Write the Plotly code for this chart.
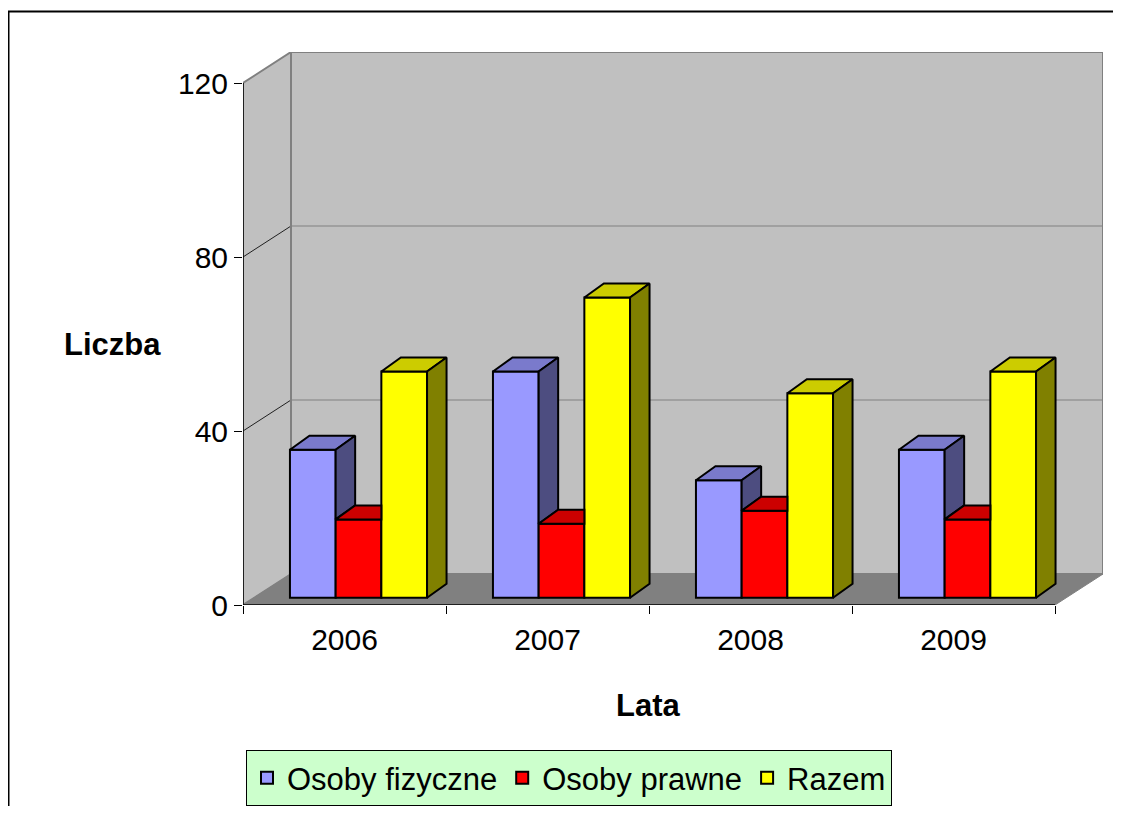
import plotly.graph_objects as go

# ---------------- data ----------------
years = ["2006", "2007", "2008", "2009"]
osoby_fizyczne = [34, 52, 27, 34]
osoby_prawne = [18, 17, 20, 18]
razem = [52, 69, 47, 52]
series_names = ["Osoby fizyczne", "Osoby prawne", "Razem"]
y_tick_values = [0, 40, 80, 120]
y_max = 120
y_title = "Liczba"
x_title = "Lata"

# ---------------- styles / geometry ----------------
PAGE_MARGIN = 8                      # default body margin of the html page
W, H = 1121 - 2 * PAGE_MARGIN, 814 - 2 * PAGE_MARGIN
FONT = "Liberation Sans, Arial, sans-serif"
front_colors = ["#9999ff", "#ff0000", "#ffff00"]
top_colors = ["#7a7acc", "#cc0000", "#cccc00"]
side_colors = ["#4d4d80", "#800000", "#808000"]

PX_LEFT, PX_ZERO = 243, 605          # front-plane origin (window pixels)
CAT_PX = 203.0                        # width of one category (pixels)
VAL_PX = (605 - 83) / 120.0           # pixels per value unit
DEPTH_PX = (48, 31)                   # full floor depth projection
FRONT_PX = (14, 7.3)                  # bar front face offset into depth
BAR_DEPTH_PX = (19.5, 14)             # bar depth projection
BAR_W_PX = 45.7

DX = DEPTH_PX[0] / CAT_PX
DY = DEPTH_PX[1] / VAL_PX
FDX = FRONT_PX[0] / CAT_PX
FDY = FRONT_PX[1] / VAL_PX
BDX = BAR_DEPTH_PX[0] / CAT_PX
BDY = BAR_DEPTH_PX[1] / VAL_PX
BW = BAR_W_PX / CAT_PX

n_cat = len(years)
x_lo, x_hi = -0.5, n_cat - 0.5
x_range = [x_lo, x_hi + DX]
y_range = [0, y_max + DY]


def px_x(p):
    return (p - PAGE_MARGIN) / W


def px_y(p):
    return 1 - (p - PAGE_MARGIN) / H


x_dom = [px_x(PX_LEFT), px_x(PX_LEFT + n_cat * CAT_PX + DEPTH_PX[0])]
y_dom = [px_y(PX_ZERO), px_y(PX_ZERO - (y_max + DY) * VAL_PX)]

series = [osoby_fizyczne, osoby_prawne, razem]
cat_pos = list(range(n_cat))

fig = go.Figure()

# front faces: real bars
for s, (name, vals) in enumerate(zip(series_names, series)):
    fig.add_trace(go.Bar(
        x=[c + FDX for c in cat_pos], y=vals, base=FDY,
        width=BW, offset=-1.5 * BW + s * BW,
        name=name, marker=dict(color=front_colors[s], line=dict(color="black", width=2)),
        hoverinfo="name+y",
    ))

# 3D top and side faces derived from the values
for s, vals in enumerate(series):
    tx, ty, sx, sy = [], [], [], []
    for c in cat_pos:
        v = vals[c]
        xl = c + FDX - 1.5 * BW + s * BW
        xr = xl + BW
        t = v + FDY
        nxt = series[s + 1][c] + FDY if s + 1 < len(series) else None
        # top face (clipped by a taller neighbour in front of it)
        if nxt is not None and nxt > t:
            tx += [xl, xr, xr, xl + BDX, xl, None]
            ty += [t, t, t + BDY, t + BDY, t, None]
        else:
            tx += [xl, xr, xr + BDX, xl + BDX, xl, None]
            ty += [t, t, t + BDY, t + BDY, t, None]
        # side face (only the part above the neighbour)
        b = FDY if nxt is None else nxt
        if b < t:
            sx += [xr, xr + BDX, xr + BDX, xr, xr, None]
            sy += [b, b + BDY, t + BDY, t, b, None]
    fig.add_trace(go.Scatter(x=tx, y=ty, mode="lines", fill="toself",
                             fillcolor=top_colors[s], line=dict(color="black", width=2),
                             showlegend=False, hoverinfo="skip"))
    if sx:
        fig.add_trace(go.Scatter(x=sx, y=sy, mode="lines", fill="toself",
                                 fillcolor=side_colors[s], line=dict(color="black", width=2),
                                 showlegend=False, hoverinfo="skip"))

# ---------------- walls, floor, gridlines ----------------
shapes = []
# back wall
shapes.append(dict(type="rect", xref="x", yref="y", x0=x_lo + DX, x1=x_hi + DX, y0=DY, y1=y_max + DY,
                   fillcolor="#c0c0c0", line=dict(color="#808080", width=2), layer="below"))
# side wall
shapes.append(dict(type="path", xref="x", yref="y",
                   path=f"M{x_lo},0 L{x_lo + DX},{DY} L{x_lo + DX},{y_max + DY} L{x_lo},{y_max} Z",
                   fillcolor="#c0c0c0", line=dict(color="#808080", width=2), layer="below"))
# floor
shapes.append(dict(type="path", xref="x", yref="y",
                   path=f"M{x_lo},0 L{x_hi},0 L{x_hi + DX},{DY} L{x_lo + DX},{DY} Z",
                   fillcolor="#808080", line=dict(color="#808080", width=1), layer="below"))
# gridlines
for v in y_tick_values[1:-1]:
    shapes.append(dict(type="line", xref="x", yref="y", x0=x_lo + DX, x1=x_hi + DX, y0=v + DY, y1=v + DY,
                       line=dict(color="#808080", width=1), layer="below"))
    shapes.append(dict(type="line", xref="x", yref="y", x0=x_lo, x1=x_lo + DX, y0=v, y1=v + DY,
                       line=dict(color="#202020", width=1), layer="below"))
# back wall left edge (re-draw over side wall)
shapes.append(dict(type="line", xref="x", yref="y", x0=x_lo + DX, x1=x_lo + DX, y0=DY, y1=y_max + DY,
                   line=dict(color="#808080", width=2), layer="below"))
# axis lines
shapes.append(dict(type="line", xref="x", yref="y", x0=x_lo, x1=x_lo, y0=0, y1=y_max,
                   line=dict(color="black", width=1.5)))
shapes.append(dict(type="line", xref="x", yref="y", x0=x_lo, x1=x_hi, y0=0, y1=0,
                   line=dict(color="black", width=1.5)))
# chart area border
shapes.append(dict(type="rect", xref="paper", yref="paper", x0=px_x(8.5), x1=1.05, y0=-0.05, y1=px_y(11.5),
                   line=dict(color="black", width=2), fillcolor="rgba(0,0,0,0)"))

fig.update_layout(
    width=W, height=H,
    margin=dict(l=0, r=0, t=0, b=0, autoexpand=False),
    paper_bgcolor="white", plot_bgcolor="white",
    font=dict(family=FONT, color="black", size=30),
    shapes=shapes,
    barmode="overlay",
    showlegend=True,
    legend=dict(orientation="h", x=px_x(569), xanchor="center", y=px_y(750), yanchor="top",
                bgcolor="#ccffcc", bordercolor="black", borderwidth=1,
                font=dict(size=31, family=FONT), traceorder="normal"),
    xaxis=dict(domain=x_dom, range=x_range, showgrid=False, zeroline=False, showline=False,
               tickmode="array", tickvals=cat_pos, ticktext=years, ticks="outside", ticklen=0,
               ticklabelstandoff=8, tickfont=dict(size=30), automargin=False,
               minor=dict(tickmode="array", tickvals=[c - 0.5 for c in range(n_cat + 1)],
                          ticks="outside", ticklen=8, tickcolor="black", tickwidth=1, showgrid=False),
               fixedrange=True),
    yaxis=dict(domain=y_dom, range=y_range, showgrid=False, zeroline=False, showline=False,
               tickmode="array", tickvals=y_tick_values, ticks="outside", ticklen=8,
               tickcolor="black", tickwidth=1, tickfont=dict(size=30), automargin=False,
               fixedrange=True),
    annotations=[
        dict(text=f"<b>{y_title}</b>", x=px_x(112), y=px_y(344), xref="paper", yref="paper",
             xanchor="center", yanchor="middle", showarrow=False, font=dict(size=31, family=FONT)),
        dict(text=f"<b>{x_title}</b>", x=px_x(648), y=px_y(705), xref="paper", yref="paper",
             xanchor="center", yanchor="middle", showarrow=False, font=dict(size=31, family=FONT)),
    ],
)

fig.write_html("out.html")
